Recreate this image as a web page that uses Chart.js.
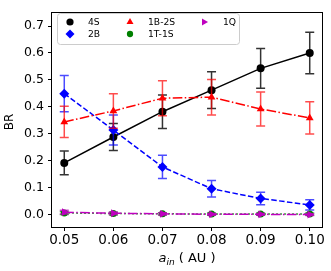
<!DOCTYPE html>
<html>
<head>
<meta charset="utf-8">
<script src="https://cdn.jsdelivr.net/npm/chart.js@4/dist/chart.umd.min.js"></script>
<style>
html,body{margin:0;padding:0;background:#fff;}
#wrap{width:331px;height:271px;}
</style>
</head>
<body>
<div id="wrap"><canvas id="c" width="331" height="271"></canvas></div>
<script>
// ---- data ----
const aIn = [0.05, 0.06, 0.07, 0.08, 0.09, 0.10];
const br4S   = [0.192, 0.288, 0.382, 0.462, 0.543, 0.600];
const err4S  = [0.044, 0.050, 0.062, 0.068, 0.074, 0.077];
const br2B   = [0.449, 0.314, 0.177, 0.096, 0.060, 0.036];
const err2B  = [0.067, 0.056, 0.043, 0.031, 0.023, 0.019];
const br1B2S = [0.344, 0.385, 0.432, 0.436, 0.392, 0.359];
const err1B2S= [0.058, 0.064, 0.065, 0.066, 0.063, 0.060];
const br1T1S = [0.006, 0.004, 0.003, 0.002, 0.002, 0.002];
const err1T1S= [0.006, 0.005, 0.004, 0.004, 0.004, 0.004];
const br1Q   = [0.009, 0.005, 0.003, 0.001, 0.001, 0.000];
const err1Q  = [0.007, 0.005, 0.004, 0.003, 0.003, 0.003];
const seriesNames = ['4S', '2B', '1B-2S', '1T-1S', '1Q'];
const xTickValues = [0.05, 0.06, 0.07, 0.08, 0.09, 0.10];
const xTickLabels = ['0.05', '0.06', '0.07', '0.08', '0.09', '0.10'];
const yTickValues = [0.0, 0.1, 0.2, 0.3, 0.4, 0.5, 0.6, 0.7];
const yTickLabels = ['0.0', '0.1', '0.2', '0.3', '0.4', '0.5', '0.6', '0.7'];

const pts = (ys) => aIn.map((x, i) => ({x: x, y: ys[i]}));

const FONT = "'DejaVu Sans', sans-serif";

function mkDs(label, ys, errs, color, errColor, style, radius, dash, order, rotation) {
  return {
    label: label, data: pts(ys), errors: errs, errColor: errColor,
    borderColor: color, backgroundColor: color,
    pointBackgroundColor: color, pointBorderColor: color, pointBorderWidth: 0,
    pointStyle: style, pointRadius: radius, pointRotation: rotation || 0,
    borderWidth: 1.5, borderDash: dash, tension: 0, order: order, fill: false
  };
}

const datasets = [
  mkDs(seriesNames[0], br4S, err4S, '#000000', 'rgba(0,0,0,0.8)', 'circle', 4, [], 5),
  mkDs(seriesNames[1], br2B, err2B, '#0000ff', 'rgba(0,0,255,0.7)', 'rectRot', 5, [5.5, 2.4], 4),
  mkDs(seriesNames[2], br1B2S, err1B2S, '#ff0000', 'rgba(255,0,0,0.7)', 'triangle', 4.5, [9.6, 2.4, 1.5, 2.4], 3),
  mkDs(seriesNames[3], br1T1S, err1T1S, '#008000', 'rgba(0,128,0,0.7)', 'circle', 3.5, [1.5, 2.5], 2),
  mkDs(seriesNames[4], br1Q, err1Q, '#bf00bf', 'rgba(191,0,191,0.7)', 'triangle', 4.5, [9.6, 2.4, 1.5, 2.4], 1, 90)
];

const errorBars = {
  id: 'errorBars',
  beforeDatasetDraw(chart, args) {
    const ds = chart.data.datasets[args.index];
    const ys = chart.scales.y;
    const ctx = chart.ctx;
    ctx.save();
    ctx.strokeStyle = ds.errColor;
    ctx.lineWidth = 1.5;
    ctx.setLineDash([]);
    args.meta.data.forEach((el, i) => {
      const v = ds.data[i].y, e = ds.errors[i];
      const t = ys.getPixelForValue(v + e), b = ys.getPixelForValue(v - e);
      const x = el.x, cw = 4.5;
      ctx.beginPath();
      ctx.moveTo(x, t); ctx.lineTo(x, b);
      ctx.moveTo(x - cw, t); ctx.lineTo(x + cw, t);
      ctx.moveTo(x - cw, b); ctx.lineTo(x + cw, b);
      ctx.stroke();
    });
    ctx.restore();
  }
};

const decor = {
  id: 'decor',
  afterDraw(chart) {
    const ctx = chart.ctx, a = chart.chartArea;
    ctx.save();
    // frame
    ctx.strokeStyle = '#000';
    ctx.lineWidth = 1;
    ctx.setLineDash([]);
    ctx.strokeRect(Math.round(a.left) - 0.5, Math.round(a.top) + 0.5,
                   Math.round(a.right - a.left) + 1, Math.round(a.bottom - a.top) - 1);
    // y title
    ctx.fillStyle = '#000';
    ctx.save();
    ctx.translate(10, 122);
    ctx.rotate(-Math.PI / 2);
    ctx.font = '12px ' + FONT;
    ctx.textAlign = 'center';
    ctx.textBaseline = 'middle';
    ctx.fillText('BR', 0, 0);
    ctx.restore();
    // x title: a_in ( AU )
    const fMain = 'italic 13px ' + FONT, fSub = 'italic 9px ' + FONT, fRest = '13px ' + FONT;
    ctx.textBaseline = 'alphabetic';
    ctx.textAlign = 'left';
    ctx.font = fMain; const w1 = ctx.measureText('a').width;
    ctx.font = fSub; const w2 = ctx.measureText('in').width;
    ctx.font = fRest; const w3 = ctx.measureText(' ( AU )').width;
    const total = w1 + w2 + w3;
    let x0 = (a.left + a.right) / 2 - total / 2;
    const base = 262;
    ctx.font = fMain; ctx.fillText('a', x0, base);
    ctx.font = fSub; ctx.fillText('in', x0 + w1, base + 2.5);
    ctx.font = fRest; ctx.fillText(' ( AU )', x0 + w1 + w2, base);
    // legend
    const lx = 57.5, ly = 13.5, lw = 182, lh = 31, r = 3;
    ctx.beginPath();
    ctx.moveTo(lx + r, ly);
    ctx.lineTo(lx + lw - r, ly); ctx.quadraticCurveTo(lx + lw, ly, lx + lw, ly + r);
    ctx.lineTo(lx + lw, ly + lh - r); ctx.quadraticCurveTo(lx + lw, ly + lh, lx + lw - r, ly + lh);
    ctx.lineTo(lx + r, ly + lh); ctx.quadraticCurveTo(lx, ly + lh, lx, ly + lh - r);
    ctx.lineTo(lx, ly + r); ctx.quadraticCurveTo(lx, ly, lx + r, ly);
    ctx.closePath();
    ctx.fillStyle = 'rgba(255,255,255,0.8)';
    ctx.fill();
    ctx.strokeStyle = '#cccccc';
    ctx.lineWidth = 1;
    ctx.stroke();
    const cols = [[70, 88], [130, 148], [204, 223]];
    const rows = [22, 34];
    ctx.font = '9.2px ' + FONT;
    ctx.textBaseline = 'middle';
    chart.data.datasets.forEach((ds, i) => {
      const c = cols[Math.floor(i / 2)], yy = rows[i % 2];
      ctx.fillStyle = ds.pointBackgroundColor;
      ctx.strokeStyle = ds.pointBorderColor;
      Chart.helpers.drawPoint(ctx, {pointStyle: ds.pointStyle, radius: ds.pointRadius * 0.9,
        rotation: ds.pointRotation, borderWidth: 0}, c[0], yy);
      ctx.fillStyle = '#000';
      ctx.fillText(ds.label, c[1], yy + 0.5);
    });
    ctx.restore();
  }
};

new Chart(document.getElementById('c'), {
  type: 'line',
  data: {datasets: datasets},
  options: {
    responsive: false,
    animation: false,
    events: [],
    layout: {padding: {top: 8, right: 9, left: 0, bottom: 0}},
    plugins: {legend: {display: false}, tooltip: {enabled: false}, title: {display: false}},
    scales: {
      x: {
        type: 'linear', min: 0.0475, max: 0.1025,
        afterBuildTicks: (s) => { s.ticks = xTickValues.map(v => ({value: v})); },
        afterFit: (s) => { s.height = 44; },
        border: {display: false},
        grid: {display: true, drawOnChartArea: false, drawTicks: true, tickLength: 4, tickColor: '#000', tickWidth: 1},
        ticks: {color: '#000', font: {family: FONT, size: 13.5}, padding: 1, maxRotation: 0,
                callback: (v, i) => xTickLabels[i]}
      },
      y: {
        type: 'linear', min: -0.046, max: 0.754,
        afterBuildTicks: (s) => { s.ticks = yTickValues.map(v => ({value: v})); },
        afterFit: (s) => { s.width = 52; },
        border: {display: false},
        grid: {display: true, drawOnChartArea: false, drawTicks: true, tickLength: 4, tickColor: '#000', tickWidth: 1},
        ticks: {color: '#000', font: {family: FONT, size: 12.5}, padding: 4,
                callback: (v, i) => yTickLabels[i]}
      }
    }
  },
  plugins: [errorBars, decor]
});
</script>
</body>
</html>
